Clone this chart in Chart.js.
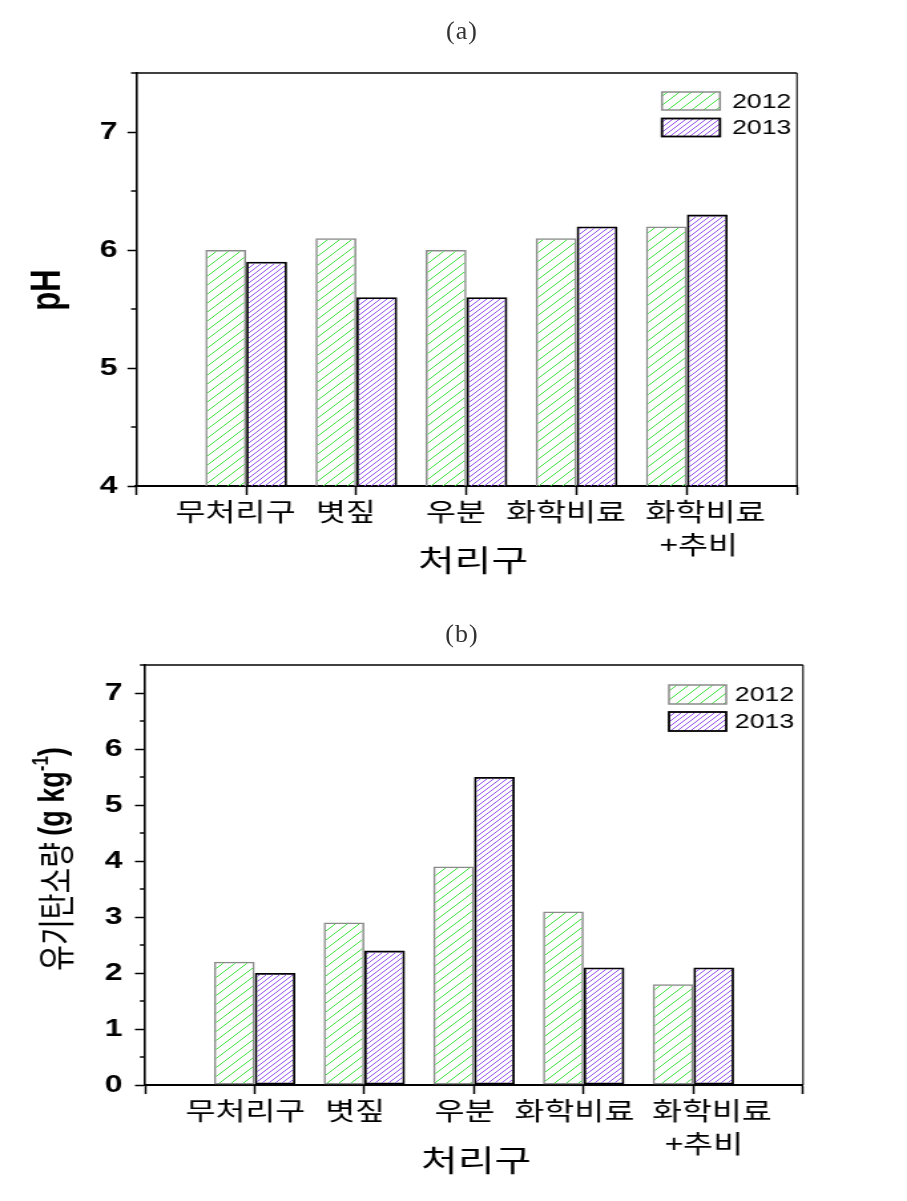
<!DOCTYPE html>
<html><head><meta charset="utf-8">
<script src="https://cdn.jsdelivr.net/npm/chart.js@4.4.1/dist/chart.umd.min.js"></script>
<style>
html,body{margin:0;padding:0;background:#fff;}
#page{position:relative;width:907px;height:1201px;overflow:hidden;background:#fff;}
.wrap{position:absolute;left:0;width:682px;transform-origin:0 0;transform:scaleX(1.33);}
.ptitle{position:absolute;left:0;width:924px;text-align:center;font-family:'Liberation Serif',serif;font-size:26px;color:#333;letter-spacing:1px;}
</style></head>
<body><div id="page">
<div class="wrap" style="top:0;height:600px"><canvas id="ca" width="682" height="600"></canvas></div>
<div class="wrap" style="top:600px;height:601px"><canvas id="cb" width="682" height="601"></canvas></div>
<div class="ptitle" style="top:16px">(a)</div>
<div class="ptitle" style="top:619px">(b)</div>
</div>
<script>
// ---- data ----
const categories = ['무처리구', '볏짚', '우분', '화학비료', ['화학비료', '+추비']];
const seriesNames = ['2012', '2013'];
const ph2012 = [6.0, 6.1, 6.0, 6.1, 6.2];
const ph2013 = [5.9, 5.6, 5.6, 6.2, 6.3];
const oc2012 = [2.2, 2.9, 3.9, 3.1, 1.8];
const oc2013 = [2.0, 2.4, 5.5, 2.1, 2.1];
const xAxisTitle = '처리구';

// ---- helpers ----
const isInt = v => Math.abs(v - Math.round(v)) < 1e-6;
function hatch(ctx, color, step, lw) {
  const c = document.createElement('canvas'); c.width = step; c.height = step;
  const g = c.getContext('2d');
  g.strokeStyle = color; g.lineWidth = lw;
  const seg = (x1, y1, x2, y2) => { g.beginPath(); g.moveTo(x1, y1); g.lineTo(x2, y2); g.stroke(); };
  seg(-1, step + 1, step + 1, -1);
  seg(-step - 1, step + 1, 1, -1);
  seg(step - 1, step + 1, 2 * step + 1, -1);
  return ctx.createPattern(c, 'repeat');
}

const decor = {
  id: 'decor',
  afterDraw(chart, args, o) {
    const { ctx, chartArea: a, scales: { x, y } } = chart;
    ctx.save();
    // frame top/right
    ctx.strokeStyle = '#000';
    ctx.lineWidth = 1.6;
    ctx.beginPath(); ctx.moveTo(a.left, a.top); ctx.lineTo(a.right, a.top); ctx.stroke();
    ctx.lineWidth = 1.1;
    ctx.beginPath(); ctx.moveTo(a.right, a.top); ctx.lineTo(a.right, a.bottom); ctx.stroke();
    // minor ticks
    ctx.lineWidth = 1.5;
    y.ticks.forEach(t => {
      if (!isInt(t.value)) {
        const py = y.getPixelForValue(t.value);
        ctx.beginPath(); ctx.moveTo(a.left - o.minorLen, py); ctx.lineTo(a.left, py); ctx.stroke();
      }
    });
    // category labels
    ctx.fillStyle = '#000';
    ctx.textAlign = 'center'; ctx.textBaseline = 'middle';
    ctx.font = o.catFont;
    categories.forEach((c, i) => {
      const lines = Array.isArray(c) ? c : [c];
      const px = x.getPixelForValue(i + 1);
      ctx.fillText(lines[0], px + o.labelOffsets[i], a.bottom + o.line1Dy);
      if (lines[1]) ctx.fillText(lines[1], px + o.line2Offset, a.bottom + o.line2Dy);
    });
    // x title
    ctx.font = o.xTitleFont;
    ctx.fillText(xAxisTitle, o.xTitleX, a.bottom + o.xTitleDy);
    // y title
    ctx.save();
    ctx.translate(o.yTitleX, o.yTitleY);
    ctx.rotate(-Math.PI / 2);
    ctx.textAlign = 'left'; ctx.textBaseline = 'middle';
    let total = 0;
    o.yTitle.forEach(p => { ctx.font = p.font; p.w = ctx.measureText(p.text).width; total += p.w; });
    let xx = -total / 2;
    o.yTitle.forEach(p => { ctx.font = p.font; ctx.fillText(p.text, xx, p.dy || 0); xx += p.w; });
    ctx.restore();
    // legend
    const L = o.legend;
    chart.data.datasets.forEach((ds, i) => {
      const by = L.y + i * L.gap;
      ctx.fillStyle = '#fff'; ctx.fillRect(L.x, by, L.w, L.h);
      ctx.fillStyle = ds.backgroundColor; ctx.fillRect(L.x, by, L.w, L.h);
      ctx.strokeStyle = ds.borderColor; ctx.lineWidth = ds.borderWidth;
      ctx.strokeRect(L.x, by, L.w, L.h);
      ctx.fillStyle = '#000'; ctx.font = L.font; ctx.textAlign = 'left'; ctx.textBaseline = 'middle';
      ctx.fillText(ds.label, L.tx, by + L.h / 2 + 1);
    });
    ctx.restore();
  }
};

function makeChart(id, s1, s2, yMin, yMax, geom, deco) {
  const canvas = document.getElementById(id);
  const ctx = canvas.getContext('2d');
  const pGreen = hatch(ctx, '#3ee23e', 9, 1);
  const pPurple = hatch(ctx, '#9650f0', 5, 1);
  const toPts = arr => arr.map((v, i) => ({ x: i + 1, y: v }));
  return new Chart(ctx, {
    type: 'bar',
    data: {
      datasets: [
        { label: seriesNames[0], data: toPts(s1), backgroundColor: pGreen, borderColor: '#8a8a8a', borderWidth: 1.5, borderSkipped: false, categoryPercentage: 0.742, barPercentage: 1.0 },
        { label: seriesNames[1], data: toPts(s2), backgroundColor: pPurple, borderColor: '#000', borderWidth: 1.8, borderSkipped: false, categoryPercentage: 0.742, barPercentage: 1.0 }
      ]
    },
    options: {
      responsive: false, animation: false, devicePixelRatio: 1,
      layout: { padding: geom.padding },
      plugins: { legend: { display: false }, tooltip: { enabled: false }, decor: deco },
      scales: {
        x: {
          type: 'linear', min: 0, max: 6, offset: false,
          afterFit: s => { s.height = 20; },
          ticks: { stepSize: 1, callback: () => '', autoSkip: false },
          grid: { display: true, offset: false, drawOnChartArea: false, drawTicks: true, tickLength: 9, tickColor: '#000', tickWidth: 1.5 },
          border: { display: true, color: '#000', width: 2 }
        },
        y: {
          type: 'linear', min: yMin, max: yMax, beginAtZero: false,
          afterFit: s => { s.width = 40; },
          ticks: {
            stepSize: 0.5, autoSkip: false, padding: geom.tickPad, color: '#000',
            font: { family: "'Liberation Sans', Arial, sans-serif", size: 24, weight: 'bold' },
            callback: v => isInt(v) ? String(Math.round(v)) : ''
          },
          grid: { display: true, drawOnChartArea: false, drawTicks: true, tickLength: geom.tickLen, tickWidth: 1.5,
                  tickColor: c => (c.tick && isInt(c.tick.value)) ? '#000' : 'rgba(0,0,0,0)' },
          border: { display: true, color: '#000', width: 1.6 }
        }
      }
    },
    plugins: [decor]
  });
}

const catFont = "24.5px 'Noto Sans CJK KR', sans-serif";
const xTitleFont = "30px 'Noto Sans CJK KR', sans-serif";

makeChart('ca', ph2012, ph2013, 4, 7.5,
  { padding: { left: 62.3, right: 82.8, top: 73, bottom: 94 }, tickPad: 7.5, tickLen: 6.5 },
  {
    minorLen: 3.8,
    catFont, xTitleFont,
    labelOffsets: [-8, -8, -8, -8, 14], line2Offset: 9,
    line1Dy: 25.5, line2Dy: 59, xTitleDy: 74, xTitleX: 355.6,
    yTitleX: 36, yTitleY: 290,
    yTitle: [{ text: 'pH', font: "bold 31px 'Liberation Sans', Arial, sans-serif" }],
    legend: { x: 497.7, y: 92, w: 43.6, h: 18, gap: 26.5, tx: 550.4, font: "20px 'Liberation Sans', Arial, sans-serif" }
  });

makeChart('cb', oc2012, oc2013, 0, 7.5,
  { padding: { left: 69, right: 78.2, top: 65, bottom: 96 }, tickPad: 9.5, tickLen: 7.5 },
  {
    minorLen: 3.8,
    catFont, xTitleFont,
    labelOffsets: [-7, -7, -7, -7, 14], line2Offset: 8,
    line1Dy: 26, line2Dy: 59, xTitleDy: 75, xTitleX: 358,
    yTitleX: 41, yTitleY: 259,
    yTitle: [
      { text: '유기탄소량 ', font: "28px 'Noto Sans CJK KR', sans-serif", dy: 1 },
      { text: '(g kg', font: "bold 27px 'Liberation Sans', Arial, sans-serif" },
      { text: '-1', font: "bold 17px 'Liberation Sans', Arial, sans-serif", dy: -10 },
      { text: ')', font: "bold 27px 'Liberation Sans', Arial, sans-serif" }
    ],
    legend: { x: 503, y: 85, w: 43, h: 19, gap: 27, tx: 552.6, font: "20px 'Liberation Sans', Arial, sans-serif" }
  });
</script>
</body></html>
